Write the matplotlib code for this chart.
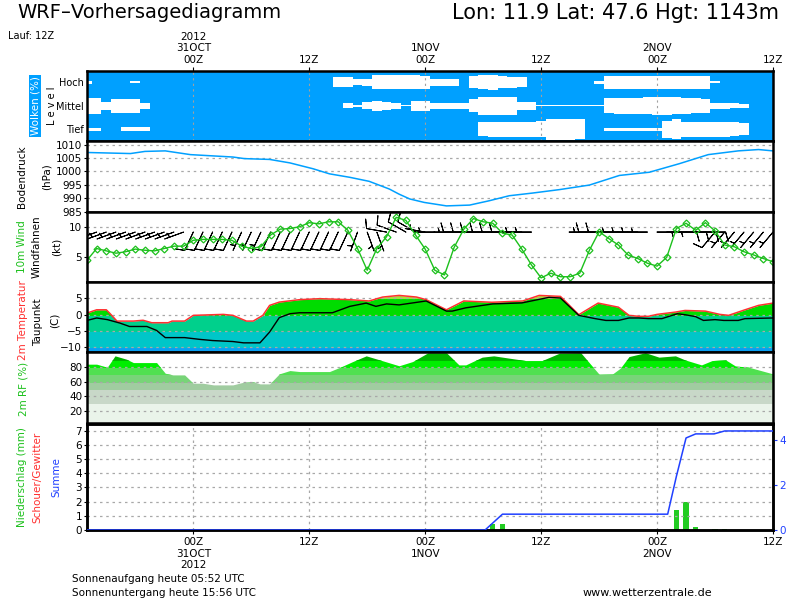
import numpy as np
import matplotlib.pyplot as plt
from matplotlib.patches import Rectangle

# Stunden relativ zu 31OCT 00Z, Lauf 12Z vom 30OCT
stunden = np.arange(-11, 61)

# Wolkenbedeckung (%) je Stunde, Tief / Mittel / Hoch
wolken_hoch = [15, 0, 0, 0, 0, 10, 0, 0, 0, 0, 0,
               0, 0, 0, 0, 0, 0, 0, 0, 0, 0, 0, 0,
               0, 0, 0, 45, 45, 30, 35, 65, 65, 65, 65, 65,
               60, 33, 33, 33, 0, 55, 65, 70, 55, 50, 45, 0,
               0, 0, 0, 0, 0, 0, 15, 60, 60, 60, 60, 60,
               60, 60, 60, 60, 60, 60, 10, 0, 0, 0, 0, 0, 0]
wolken_mittel = [75, 75, 40, 65, 65, 65, 30, 0, 0, 0, 0,
                 0, 0, 0, 0, 0, 0, 0, 0, 0, 0, 0, 0,
                 0, 0, 0, 0, 25, 10, 35, 45, 40, 30, 5, 47,
                 47, 28, 28, 28, 28, 60, 85, 85, 85, 85, 40, 40,
                 5, 5, 5, 5, 5, 5, 5, 70, 75, 75, 75, 80,
                 85, 85, 80, 75, 70, 65, 30, 28, 25, 20, 0, 0, 0]
wolken_tief = [15, 15, 0, 0, 20, 20, 20, 0, 0, 0, 0,
               0, 0, 0, 0, 0, 0, 0, 0, 0, 0, 0, 0,
               0, 0, 0, 0, 0, 0, 0, 0, 0, 0, 0, 0,
               0, 0, 0, 0, 0, 0, 65, 70, 70, 70, 70, 70,
               75, 98, 98, 98, 95, 0, 0, 15, 15, 15, 15, 15,
               15, 80, 95, 70, 70, 70, 70, 70, 65, 55, 0, 0, 0]

# Bodendruck (hPa)
druck_h = [-11, -6.5, -5, -2.9, -0.3, 4.1, 5.3, 7.9, 10, 12.4, 14.1, 16.2, 18.2, 20.3,
           21.3, 22.4, 23.9, 26.2, 28.6, 30.6, 32.7, 35.1, 37.9, 41, 44.1, 47.2, 50.3,
           53.3, 56.4, 58.5, 60]
druck = [1007.1, 1006.7, 1007.5, 1007.7, 1006.3, 1005.4, 1004.8, 1004.5, 1003.2, 1001.0,
         999.1, 997.8, 996.3, 993.4, 991.5, 989.7, 988.4, 987.1, 987.4, 989.0, 990.9,
         991.9, 993.2, 994.9, 998.5, 999.7, 1002.9, 1006.3, 1007.7, 1008.2, 1007.7]

# 10m Wind (kt), stuendlich
wind = [4.4, 6.4, 6.0, 5.6, 5.85, 6.3, 6.1, 6.0, 6.4, 6.8, 6.8,
        7.8, 7.95, 7.95, 7.95, 7.8, 6.8, 6.4, 6.7, 8.7, 9.7, 9.8, 10.1,
        10.8, 10.6, 10.95, 10.95, 9.5, 6.4, 2.7, 6.4, 8.4, 11.7, 11.2, 8.7,
        6.3, 2.7, 1.9, 6.6, 9.7, 11.5, 10.95, 10.7, 9.0, 8.7, 6.3, 3.6,
        1.4, 2.2, 1.6, 1.6, 2.2, 6.1, 9.25, 8.1, 7.0, 5.3, 4.7, 3.9,
        3.4, 4.9, 9.8, 10.7, 9.5, 10.8, 9.4, 7.0, 6.7, 5.85, 5.3, 4.7, 4.15]
# Windrichtung der Windfahnen (Grad)
windrichtung = [250, 250, 250, 250, 250, 250, 250, 250, 250, 250, 250,
                205, 205, 205, 205, 205, 205, 205, 205, 205, 205, 205, 205,
                205, 205, 205, 205, 205, 200, 160, 160, 280, 290, 300, 300,
                280, 270, 270, 270, 270, 270, 270, 270, 270, 270, 270, 270,
                160, 160, 160, 160, 160, 270, 270, 270, 270, 270, 270, 270,
                90, 90, 90, 90, 90, 90, 220, 220, 220, 220, 220, 220, 220]

# 2m Temperatur und Taupunkt (C)
temp_h = [-11, -10, -9, -8.6, -7.9, -6.2, -5.2, -4.3, -2.6, -2.2, -0.9, 0, 3.1, 4.1, 5.5,
          6.2, 7.2, 7.9, 8.9, 11, 13.1, 16.2, 18.2, 19.6, 21.3, 23.1, 24.1, 26.2, 28, 30.9,
          34.1, 35.8, 38, 39.9, 41.9, 44, 45.1, 46.1, 47.1, 48, 49.9, 50.9, 53, 54.5, 55.4,
          57.1, 58.5, 60]
temp = [0.5, 1.5, 1.5, 0.3, -1.95, -1.95, -1.7, -2.45, -2.45, -1.95, -1.95, -0.2, 0.1, -0.2,
        -1.95, -1.95, -0.2, 2.85, 3.85, 4.6, 4.9, 4.6, 4.2, 5.4, 5.9, 5.4, 4.6, 1.5, 4.2, 3.8,
        4.2, 5.9, 5.6, 0.0, 3.55, 2.3, -0.2, -0.5, -0.5, 0.1, 0.8, 1.3, 1.1, 0.1, -0.2, 1.5,
        2.85, 3.55]
taup_h = [-11, -10, -8.9, -7.6, -6.6, -4.8, -3.8, -2.9, -0.9, 0.7, 2.0, 4.1, 5.2, 6.9, 7.9,
          8.9, 10, 11, 14.4, 16.2, 17.9, 18.9, 20, 21.3, 24.1, 26.2, 26.8, 28.2, 31, 34, 36.8,
          38, 39.9, 41.6, 42.7, 44, 45.1, 46.1, 47.1, 48.5, 50.1, 50.9, 52, 52.8, 54, 54.9,
          56.4, 57.1, 60]
taupunkt = [-1.75, -1.0, -1.5, -2.55, -3.6, -3.6, -4.8, -7.0, -7.0, -7.55, -7.9, -8.2, -8.6,
            -8.6, -5.3, -0.9, 0.3, 0.6, 0.6, 2.55, 3.55, 2.55, 3.3, 3.0, 4.2, 1.1, 1.1, 2.1,
            3.3, 3.6, 5.3, 5.1, -0.2, -1.2, -1.75, -1.75, -1.0, -1.0, -1.2, -1.2, 0.3, 0.0,
            -0.6, -1.75, -1.5, -1.75, -1.75, -1.2, -1.0]

# 2m relative Feuchte (%)
rf_h = [-11, -10, -8.9, -8.1, -6.9, -6.2, -3.8, -2.9, -2.1, -0.9, 0, 1, 2.1, 4.1, 5.2, 6.2,
        6.9, 7.9, 8.9, 10, 11, 14.1, 15.2, 16.5, 17.9, 19.3, 21.3, 22.7, 24.3, 26.2, 27.5,
        28.2, 29.9, 31.1, 32.7, 34.4, 36.1, 37.9, 40.1, 42, 43.4, 44.2, 45.1, 46.8, 48.2,
        49.9, 50.9, 52.6, 53.7, 55.1, 56.1, 57.5, 58.5, 60]
rf = [84.2, 84.2, 80, 95.7, 91, 86.4, 86.4, 71.7, 69.4, 69.4, 57.9, 57.9, 55.6, 55.6, 59.3,
      60, 57, 57, 70.8, 75.4, 74, 74, 80, 87.8, 95.7, 90.1, 82, 87.8, 100, 100, 83.2, 83.2,
      93.9, 95.7, 92.5, 89.2, 89.2, 99.4, 100, 70.4, 70.8, 78.7, 94.7, 100, 93.9, 95.7, 90.1,
      83.2, 89.2, 90.1, 81.8, 80, 76.3, 70.8]

# Niederschlag (mm) und Summe
nied_h = [31, 32, 50, 51, 52, 54, 55]
nied = [0.42, 0.40, 1.41, 1.98, 0.20, 0.10, 0.10]
summe_h = [-11, 30.2, 32, 49.1, 50, 51, 52, 53.9, 55, 60]
summe = [0, 0, 0.7, 0.7, 2.37, 4.07, 4.25, 4.25, 4.38, 4.38]

zeit_ticks = [0, 12, 24, 36, 48, 60]
zeit_oben = ['2012\n31OCT\n00Z', '12Z', '1NOV\n00Z', '12Z', '2NOV\n00Z', '12Z']
zeit_unten = ['00Z\n31OCT\n2012', '12Z', '00Z\n1NOV', '12Z', '00Z\n2NOV', '12Z']

plt.rcParams['font.family'] = 'DejaVu Sans'
plt.rcParams['font.size'] = 7.5

BLAU = '#00A0FF'
GRUEN = '#1CC01C'
ROT = '#FF3030'
GRID = dict(color='#A8A8A8', lw=0.9, ls=(0, (2, 3)), zorder=4)

fig = plt.figure(figsize=(8, 6), dpi=100)


def panel(top, bottom):
    ax = fig.add_axes([87 / 800, 1 - bottom / 600, 686 / 800, (bottom - top) / 600])
    ax.set_xlim(-11, 60)
    for s in ax.spines.values():
        s.set_linewidth(1.8)
        s.set_zorder(6)
    ax.tick_params(length=2, width=0.8, pad=1.5, labelsize=7.5)
    ax.set_xticks([])
    return ax


def band_fill(ax, x, y, bands, unten):
    for lo, hi, farbe in bands:
        poly = ax.fill_between(x, unten, y, color=farbe, lw=0, zorder=1)
        poly.set_clip_path(Rectangle((-20, lo), 100, hi - lo, transform=ax.transData))


def label(x, y, text, farbe='black', size=7.5, **kw):
    fig.text(x / 800, 1 - y / 600, text, color=farbe, rotation=90,
             ha='center', va='center', fontsize=size, **kw)


# Wolken
ax1 = panel(70.5, 141)
ax1.set_facecolor(BLAU)
ax1.set_ylim(0, 3)
for lvl, werte in zip([0.5, 1.5, 2.5], [wolken_tief, wolken_mittel, wolken_hoch]):
    d = np.array(werte) / 100 * 0.45
    ax1.fill_between(stunden, lvl - d, lvl + d, step='mid', color='white', lw=0, zorder=2)
for t in zeit_ticks[:-1]:
    ax1.axvline(t, color='#A0A0A0', lw=0.8, ls=(0, (2, 3)), zorder=3)
ax1.set_yticks([0.5, 1.5, 2.5], ['Tief', 'Mittel', 'Hoch'])
ax1.tick_params(axis='y', labelsize=7, length=0, pad=2)
ax1.xaxis.tick_top()
ax1.set_xticks(zeit_ticks, zeit_oben)
ax1.tick_params(axis='x', length=3, pad=1)

# Bodendruck
ax2 = panel(141, 211.5)
ax2.set_ylim(985, 1011.4)
ax2.set_yticks([985, 990, 995, 1000, 1005, 1010])
for g in [990, 995, 1000, 1005, 1010]:
    ax2.axhline(g, **GRID)
ax2.plot(druck_h, druck, color=BLAU, lw=1.1, zorder=5)

# Wind
ax3 = panel(211.5, 282)
ax3.set_ylim(0.7, 12.7)
ax3.set_yticks([5, 10])
for g in [5, 10]:
    ax3.axhline(g, **GRID)
spd = np.array(wind)
rad = np.deg2rad(windrichtung)
ax3.barbs(stunden, np.full(len(stunden), 9.2), -spd * np.sin(rad), -spd * np.cos(rad),
          length=5.4, lw=0.7, color='black', zorder=3,
          sizes=dict(emptybarb=0.0, spacing=0.18, height=0.45))
ax3.plot(stunden, wind, color=GRUEN, lw=1, marker='D', ms=3.5, mfc='none', mew=0.9, zorder=5)

# Temperatur
ax4 = panel(282, 352)
ax4.set_ylim(-11.4, 10)
ax4.set_yticks([-10, -5, 0, 5])
temp_baender = [(-30, -10, '#0A9FF2'), (-10, -5, '#00C6C8'), (-5, 0, '#00D08C'),
                (0, 5, '#00DC00'), (5, 30, '#A8DC3C')]
band_fill(ax4, temp_h, temp, temp_baender, -11.4)
for g in [-10, -5, 0, 5]:
    ax4.axhline(g, **GRID)
ax4.plot(temp_h, temp, color=ROT, lw=1.1, zorder=5)
ax4.plot(taup_h, taupunkt, color='black', lw=1.0, zorder=5)

# relative Feuchte
ax5 = panel(352, 423)
ax5.set_ylim(3, 101)
ax5.set_yticks([20, 40, 60, 80])
rf_baender = [(0, 30, '#EAF4EA'), (30, 50, '#C8D8C8'), (50, 60, '#A0CCA0'),
              (60, 70, '#78D478'), (70, 80, '#50E050'), (80, 90, '#00EE00'),
              (90, 120, '#00B400')]
band_fill(ax5, rf_h, rf, rf_baender, 0)
for g in [20, 40, 60, 80]:
    ax5.axhline(g, **GRID)

# Niederschlag
ax6 = panel(423.5, 530)
ax6.set_ylim(0, 7.5)
ax6.set_yticks(range(8))
for g in range(1, 8):
    ax6.axhline(g, **GRID)
for t in zeit_ticks[:-1]:
    ax6.axvline(t, **GRID)
ax6.bar(nied_h, nied, width=0.55, color='#22CC22', zorder=3)
ax6.set_xticks(zeit_ticks, zeit_unten)
ax6.tick_params(axis='x', length=3, pad=2)
ax6b = ax6.twinx()
ax6b.set_ylim(0, 4.71)
ax6b.set_yticks([0, 2, 4])
ax6b.tick_params(axis='y', colors='#2040FF', length=3, width=0.8, pad=1.5, labelsize=7.5)
ax6b.plot(summe_h, summe, color='#2040FF', lw=1.1, zorder=5)
for s in ax6b.spines.values():
    s.set_linewidth(1.8)

# Achsenbeschriftungen links
fig.text(35 / 800, 1 - 106 / 600, 'Wolken (%)', color='white', rotation=90, ha='center',
         va='center', fontsize=7.5,
         bbox=dict(facecolor=BLAU, edgecolor='none', pad=1.0))
label(52, 106, 'L e v e l', size=7)
label(22, 177, 'Bodendruck')
label(47, 177, '(hPa)')
label(22, 247, '10m Wind', GRUEN)
label(37, 247, 'Windfahnen')
label(57, 247, '(kt)')
label(23, 320, '2m Temperatur', ROT)
label(38, 322, 'Taupunkt')
label(55, 320, '(C)')
label(23, 389, '2m RF (%)', GRUEN)
label(22, 477, 'Niederschlag (mm)', GRUEN)
label(37, 477, 'Schouer/Gewitter', ROT)
label(56, 477, 'Summe', '#2040FF')

# Kopf und Fuss
fig.text(17 / 800, 1 - 13 / 600, 'WRF\u2013Vorhersagediagramm', fontsize=14, va='center')
fig.text(779 / 800, 1 - 13 / 600, 'Lon: 11.9 Lat: 47.6 Hgt: 1143m', fontsize=15,
         ha='right', va='center')
fig.text(8 / 800, 1 - 36 / 600, 'Lauf: 12Z', fontsize=7, va='center')
fig.text(72 / 800, 1 - 579 / 600, 'Sonnenaufgang heute 05:52 UTC', fontsize=7.5, va='center')
fig.text(72 / 800, 1 - 593 / 600, 'Sonnenuntergang heute 15:56 UTC', fontsize=7.5, va='center')
fig.text(583 / 800, 1 - 593 / 600, 'www.wetterzentrale.de', fontsize=8, va='center')

fig.savefig('out.png', dpi=100)
